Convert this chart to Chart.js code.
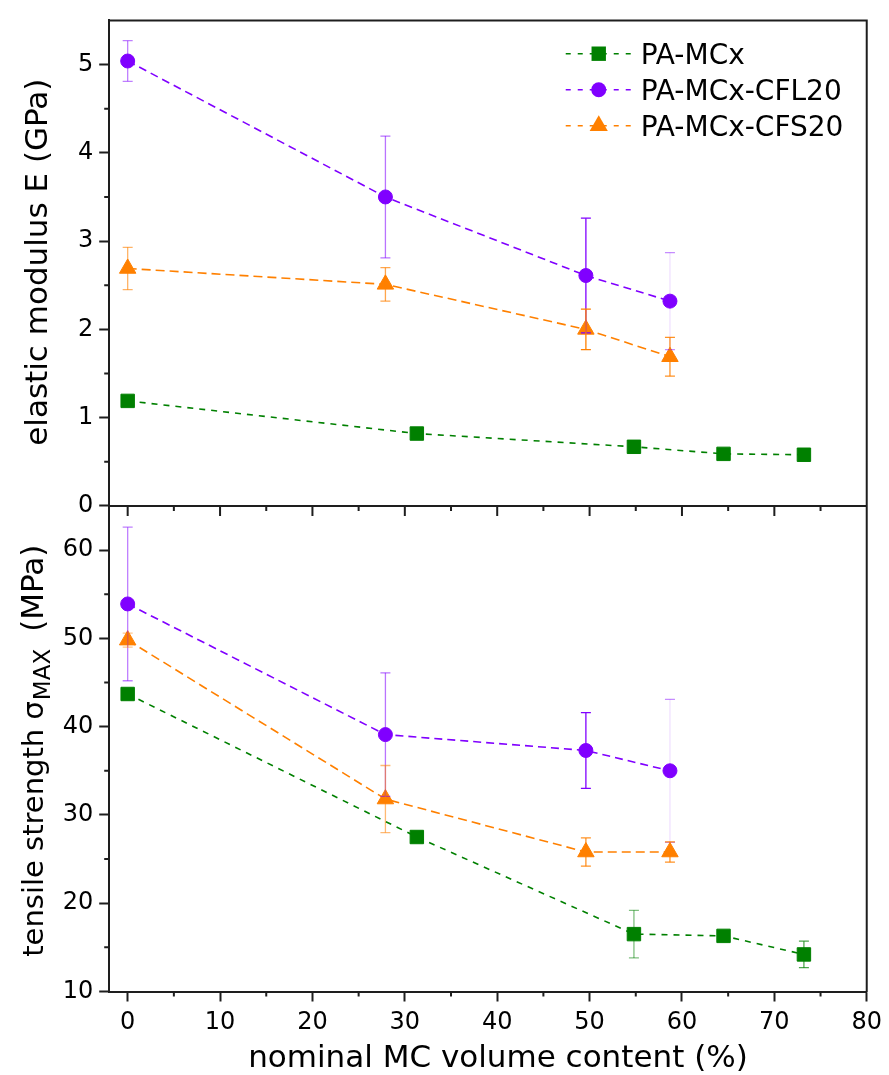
<!DOCTYPE html>
<html>
<head>
<meta charset="utf-8">
<title>PA-MCx</title>
<script src="https://cdn.jsdelivr.net/npm/chart.js@4.4.1/dist/chart.umd.min.js"></script>
<style>
    html, body { margin: 0; padding: 0; background: #fff; }
    #grafico { display: block; }
</style>
</head>
<body>
<canvas id="grafico" width="889" height="1075"></canvas>
<script>
// Valores
const seriesNames = ['PA-MCx', 'PA-MCx-CFL20', 'PA-MCx-CFS20'];

const xMC = [0, 31.3, 54.8, 64.5, 73.2];
const xCF = [0, 27.9, 49.6, 58.7];

// elastic modulus E (GPa)
const eMC = [1.19, 0.82, 0.67, 0.59, 0.58];
const eMCErr = [0, 0, 0, 0, 0];
const eCFL = [5.04, 3.50, 2.61, 2.32];
const eCFLErr = [0.23, 0.69, 0.65, 0.55];
const eCFS = [2.69, 2.51, 2.00, 1.69];
const eCFSErr = [0.24, 0.19, 0.23, 0.22];

// tensile strength (MPa)
const sMC = [43.7, 27.5, 16.5, 16.3, 14.2];
const sMCErr = [0, 0, 2.7, 0, 1.5];
const sCFL = [53.9, 39.1, 37.3, 35.0];
const sCFLErr = [8.7, 7.0, 4.3, 8.1];
const sCFS = [49.8, 31.8, 25.8, 25.8];
const sCFSErr = [0.8, 3.8, 1.6, 1.15];

// Estilos
const cores = ['0,128,0', '128,0,255', '255,128,0'];
const marcadores = ['rect', 'circle', 'triangle'];
const raios = [9.5, 7, 9.5];
const tracos = [[6, 6], [8, 5], [9, 5]];
const alphaTop = [[1, 1, 1, 1, 1], [0.5, 0.55, 1, 0.12], [0.6, 0.7, 1, 0.85]];
const alphaBot = [[1, 1, 0.5, 1, 0.7], [0.5, 0.55, 1, 0.12], [0.45, 0.55, 0.85, 0.85]];
const corEixo = '#1e1e1e';
const familia = '"DejaVu Sans", sans-serif';

function fonte(px) { return px + 'px ' + familia; }

function pontos(xs, ys) {
    return xs.map((x, i) => ({ x: x, y: ys[i] }));
}

function serie(i, xs, ys, erros, alphas, eixo) {
    const rgb = `rgb(${cores[i]})`;
    return {
        label: seriesNames[i],
        data: pontos(xs, ys),
        erros: erros,
        alphas: alphas,
        cor: cores[i],
        yAxisID: eixo,
        borderColor: rgb,
        borderWidth: 1.6,
        borderDash: tracos[i],
        pointStyle: marcadores[i],
        pointRadius: raios[i],
        pointBackgroundColor: rgb,
        pointBorderColor: rgb,
        pointBorderWidth: 1,
        fill: false,
        tension: 0
    };
}

const datasets = [
    serie(0, xMC, eMC, eMCErr, alphaTop[0], 'yTop'),
    serie(1, xCF, eCFL, eCFLErr, alphaTop[1], 'yTop'),
    serie(2, xCF, eCFS, eCFSErr, alphaTop[2], 'yTop'),
    serie(0, xMC, sMC, sMCErr, alphaBot[0], 'yBot'),
    serie(1, xCF, sCFL, sCFLErr, alphaBot[1], 'yBot'),
    serie(2, xCF, sCFS, sCFSErr, alphaBot[2], 'yBot')
];

// barras de erro por cima dos pontos
const barrasErro = {
    id: 'barrasErro',
    afterDatasetsDraw(chart) {
        const ctx = chart.ctx;
        const xs = chart.scales.x;
        ctx.save();
        ctx.lineWidth = 1.3;
        chart.data.datasets.forEach(ds => {
            const ys = chart.scales[ds.yAxisID];
            ds.data.forEach((p, j) => {
                const e = ds.erros[j];
                if (!e) return;
                const x = xs.getPixelForValue(p.x);
                const y1 = ys.getPixelForValue(p.y + e);
                const y2 = ys.getPixelForValue(p.y - e);
                const a = ds.alphas[j];
                ctx.strokeStyle = `rgba(${ds.cor},${a})`;
                ctx.beginPath();
                ctx.moveTo(x, y1);
                ctx.lineTo(x, y2);
                ctx.stroke();
                ctx.strokeStyle = `rgba(${ds.cor},${Math.max(a, 0.45)})`;
                ctx.beginPath();
                ctx.moveTo(x - 5, y1); ctx.lineTo(x + 5, y1);
                ctx.moveTo(x - 5, y2); ctx.lineTo(x + 5, y2);
                ctx.stroke();
            });
        });
        ctx.restore();
    }
};

function marcador(ctx, tipo, x, y) {
    ctx.beginPath();
    if (tipo === 'rect') {
        ctx.rect(x - 7.2, y - 7.2, 14.4, 14.4);
    } else if (tipo === 'circle') {
        ctx.arc(x, y, 7.5, 0, Math.PI * 2);
    } else {
        const r = 10.5;
        ctx.moveTo(x, y - r);
        ctx.lineTo(x + r * Math.sin(Math.PI * 2 / 3), y + r / 2);
        ctx.lineTo(x - r * Math.sin(Math.PI * 2 / 3), y + r / 2);
        ctx.closePath();
    }
    ctx.fill();
}

// moldura, divisor entre os paineis, ticks menores, titulos e legenda
const moldura = {
    id: 'moldura',
    afterDraw(chart) {
        const ctx = chart.ctx;
        const area = chart.chartArea;
        const xs = chart.scales.x;
        const yt = chart.scales.yTop;
        const yb = chart.scales.yBot;
        const meio = yt.bottom;

        ctx.save();
        ctx.strokeStyle = corEixo;
        ctx.lineWidth = 2;
        ctx.beginPath();
        ctx.moveTo(area.left - 1, area.top); ctx.lineTo(area.right + 1, area.top);
        ctx.moveTo(area.right, area.top); ctx.lineTo(area.right, area.bottom + 1);
        ctx.moveTo(area.left - 1, meio); ctx.lineTo(area.right + 1, meio);
        for (let v = 0; v <= 80; v += 5) {
            const px = xs.getPixelForValue(v);
            const len = v % 10 === 0 ? 10 : 5;
            ctx.moveTo(px, meio); ctx.lineTo(px, meio + len);
            if (v % 10 !== 0) { ctx.moveTo(px, area.bottom); ctx.lineTo(px, area.bottom + 5); }
        }
        for (let v = 0.5; v < 5.5; v += 1) {
            const py = yt.getPixelForValue(v);
            ctx.moveTo(area.left, py); ctx.lineTo(area.left - 5, py);
        }
        for (let v = 15; v < 65; v += 10) {
            const py = yb.getPixelForValue(v);
            ctx.moveTo(area.left, py); ctx.lineTo(area.left - 5, py);
        }
        ctx.stroke();

        // titulos dos eixos
        ctx.fillStyle = '#000';
        ctx.textBaseline = 'alphabetic';
        ctx.font = fonte(31);
        ctx.textAlign = 'center';
        ctx.fillText('nominal MC volume content (%)', (xs.left + xs.right) / 2 + 10, xs.bottom - 8);

        ctx.save();
        ctx.translate(46.7, (yt.top + yt.bottom) / 2 - 1);
        ctx.rotate(-Math.PI / 2);
        ctx.fillText('elastic modulus E (GPa)', 0, 0);
        ctx.restore();

        ctx.save();
        ctx.translate(43, (yb.top + yb.bottom) / 2 + 2);
        ctx.rotate(-Math.PI / 2);
        ctx.textAlign = 'left';
        const p1 = 'tensile strength \u03C3', p2 = 'MAX', p3 = '(MPa)';
        ctx.font = fonte(29); const w1 = ctx.measureText(p1).width;
        ctx.font = fonte(23); const w2 = ctx.measureText(p2).width;
        ctx.font = fonte(31); const w3 = ctx.measureText(p3).width;
        const espaco = 17;
        let pos = -(w1 + 1 + w2 + espaco + w3) / 2;
        ctx.font = fonte(29); ctx.fillText(p1, pos, 0); pos += w1 + 1;
        ctx.font = fonte(23); ctx.fillText(p2, pos, 7); pos += w2 + espaco;
        ctx.font = fonte(31); ctx.fillText(p3, pos, 0);
        ctx.restore();

        // legenda
        ctx.font = fonte(28);
        ctx.textAlign = 'left';
        seriesNames.forEach((nome, i) => {
            const y = area.top + 33.3 + 36 * i;
            const x0 = area.right - 301;
            ctx.strokeStyle = `rgb(${cores[i]})`;
            ctx.fillStyle = `rgb(${cores[i]})`;
            ctx.lineWidth = 1.6;
            ctx.setLineDash([5, 7]);
            ctx.beginPath();
            ctx.moveTo(x0, y); ctx.lineTo(x0 + 66, y);
            ctx.stroke();
            ctx.setLineDash([]);
            marcador(ctx, marcadores[i], x0 + 33, y);
            ctx.fillStyle = '#000';
            ctx.fillText(nome, x0 + 75, y + 10);
        });
        ctx.restore();
    }
};

function eixoY(min, max, passo) {
    return {
        type: 'linear',
        position: 'left',
        stack: 'paineis',
        stackWeight: 1,
        min: min,
        max: max,
        ticks: { stepSize: passo, includeBounds: false, color: '#000', font: { family: familia, size: 24 }, padding: 6 },
        grid: { drawOnChartArea: false, tickLength: 10, tickWidth: 2, tickColor: corEixo },
        border: { color: corEixo, width: 2 },
        title: { display: false },
        afterFit: s => { s.width = 109.2; }
    };
}

new Chart(document.getElementById('grafico'), {
    type: 'line',
    data: { datasets: datasets },
    options: {
        responsive: false,
        animation: false,
        events: [],
        layout: { padding: { top: 10, right: 20, left: 0, bottom: 0 } },
        plugins: { legend: { display: false }, tooltip: { enabled: false } },
        scales: {
            x: {
                type: 'linear',
                position: 'bottom',
                min: -2,
                max: 80,
                ticks: { stepSize: 10, includeBounds: false, color: '#000', font: { family: familia, size: 24 }, padding: 7, maxRotation: 0 },
                grid: { drawOnChartArea: false, tickLength: 10, tickWidth: 2, tickColor: corEixo },
                border: { color: corEixo, width: 2 },
                afterFit: s => { s.height = 83.5; }
            },
            yBot: eixoY(10, 65, 10),
            yTop: eixoY(0, 5.5, 1)
        }
    },
    plugins: [barrasErro, moldura]
});
</script>
</body>
</html>
